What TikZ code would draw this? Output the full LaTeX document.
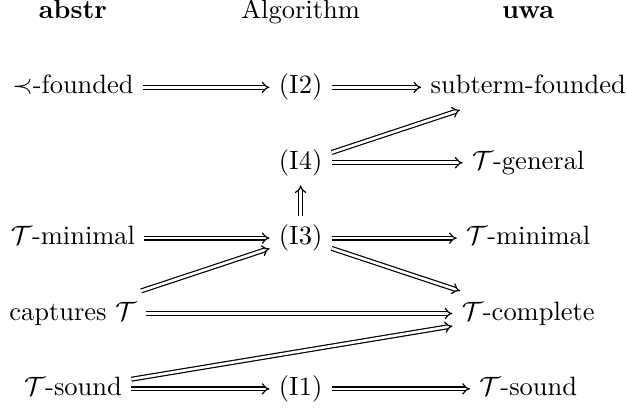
\documentclass[tikz,border=0pt]{standalone}
\usepackage{amsmath,amssymb}
\usepackage{tikz}
\usetikzlibrary{arrows.meta,positioning}

\begin{document}
\begin{tikzpicture}[
    node distance=1cm and 3.02cm, on grid,
    item/.style={inner sep=.3333em, text height=.75em, text depth=.25em},
    head/.style={item, font=\bfseries},
    arrow/.style={-Implies, double, double distance=1pt, line width=0.45pt},
]
    \useasboundingbox (-0.968,0.159) rectangle (7.35,-5.254);

    \node[head] (abstr) {abstr};
    \node[item, right=of abstr] (algo) {Algorithm};
    \node[head, right=of algo] (uwa) {uwa};

    \node[item, below=of abstr] (prec) {$\prec$-founded};
    \node[item, below=of algo] (itwo) {(I2)};
    \node[item, below=of uwa] (subterm) {subterm-founded};
    \node[item, below=of itwo] (ifour) {(I4)};
    \node[item, right=of ifour] (general) {$\mathcal{T}$-general};
    \node[item, below=of ifour] (ithree) {(I3)};
    \node[item, left=of ithree] (lmin) {$\mathcal{T}$-minimal};
    \node[item, right=of ithree] (rmin) {$\mathcal{T}$-minimal};
    \node[item, below=of lmin] (captures) {captures $\mathcal{T}$};
    \node[item, below=of rmin] (complete) {$\mathcal{T}$-complete};
    \node[item, below=of captures] (lsound) {$\mathcal{T}$-sound};
    \node[item, right=of lsound] (ione) {(I1)};
    \node[item, right=of ione] (rsound) {$\mathcal{T}$-sound};

    \draw[arrow] (prec) -- (itwo);
    \draw[arrow] (itwo) -- (subterm);
    \draw[arrow] (ifour) -- (subterm);
    \draw[arrow] (ifour) -- (general);
    \draw[arrow] (ithree) -- (ifour);
    \draw[arrow] (lmin) -- (ithree);
    \draw[arrow] (captures) -- (ithree);
    \draw[arrow] (ithree) -- (rmin);
    \draw[arrow] (ithree) -- (complete);
    \draw[arrow] (captures) -- (complete);
    \draw[arrow] (lsound) -- (complete);
    \draw[arrow] (lsound) -- (ione);
    \draw[arrow] (ione) -- (rsound);
\end{tikzpicture}
\end{document}
